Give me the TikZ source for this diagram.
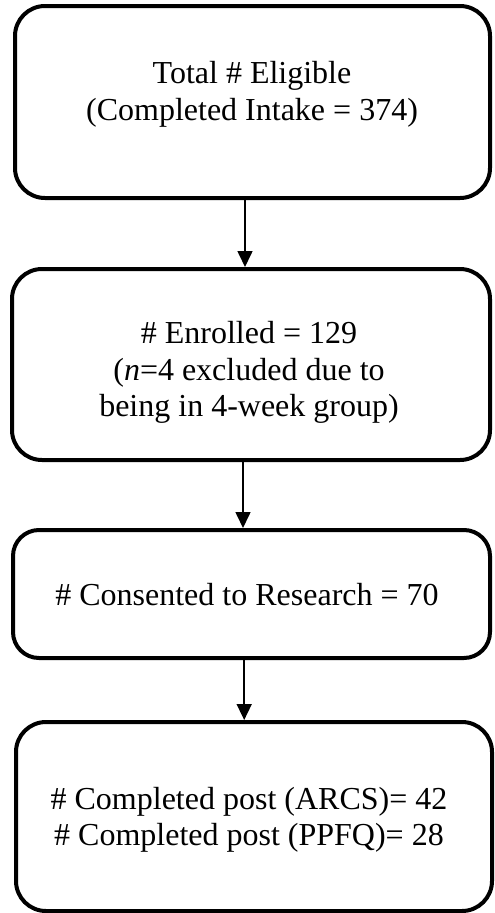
\documentclass[tikz,border=0pt]{standalone}
\usepackage{fontspec}
\setmainfont{Liberation Serif}
\usetikzlibrary{arrows.meta}
\begin{document}
\begin{tikzpicture}[x=1pt,y=-1pt,
  box/.style={draw=black, line width=4pt, rounded corners=30pt, inner sep=0pt},
  lbl/.style={align=center, font=\fontsize{32}{36.5}\selectfont, inner sep=0pt},
  arr/.style={line width=1.6pt, -{Triangle[width=15pt,length=16pt]}}]
\useasboundingbox (0,0) rectangle (495,913);
\node[box, minimum width=475pt, minimum height=192pt] (b1) at (252.5,102) {};
\node[box, minimum width=478pt, minimum height=191pt] (b2) at (251,364.5) {};
\node[box, rounded corners=26pt, minimum width=477pt, minimum height=128pt] (b3) at (251.5,594) {};
\node[box, minimum width=476pt, minimum height=189pt] (b4) at (254,816.5) {};
\node[lbl] (t1) at (252,94.5) {Total \# Eligible\\(Completed Intake = 374)};
\node[lbl] (t2) at (249,372.5) {\# Enrolled = 129\\(\textit{n}=4 excluded due to\\being in 4-week group)};
\node[lbl] (t3) at (247,595) {\# Consented to Research = 70};
\node[lbl] (t4) at (249,820) {\# Completed post (ARCS)= 42\\\# Completed post (PPFQ)= 28};
\draw[arr] ([xshift=-7.5pt,yshift=3pt]b1.south) -- ([xshift=-6pt]b2.north);
\draw[arr] ([xshift=-8pt,yshift=3pt]b2.south) -- ([xshift=-8.5pt]b3.north);
\draw[arr] ([xshift=-7.3pt,yshift=3pt]b3.south) -- ([xshift=-9.8pt]b4.north);
\end{tikzpicture}
\end{document}
